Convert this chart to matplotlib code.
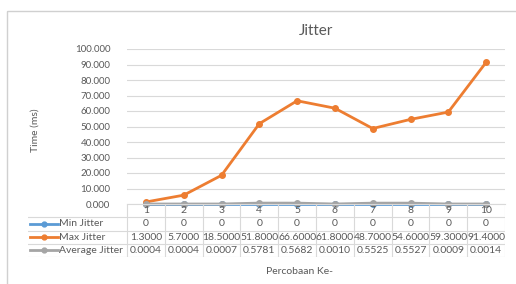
import numpy as np
import matplotlib.pyplot as plt
from matplotlib.patches import Rectangle
from matplotlib.lines import Line2D

plt.rcParams['font.family'] = ['Lato', 'DejaVu Sans']

# data
categories = [1, 2, 3, 4, 5, 6, 7, 8, 9, 10]
min_jitter = [0, 0, 0, 0, 0, 0, 0, 0, 0, 0]
max_jitter = [1.3, 5.7, 18.5, 51.8, 66.6, 61.8, 48.7, 54.6, 59.3, 91.4]
avg_jitter = [0.0004, 0.0004, 0.0007, 0.5781, 0.5682, 0.0010, 0.5525, 0.5527, 0.0009, 0.0014]
yticks = [0, 10, 20, 30, 40, 50, 60, 70, 80, 90, 100]

series = [
    ('Min Jitter', min_jitter, '#5B9BD5', lambda v: '%d' % v),
    ('Max Jitter', max_jitter, '#ED7D31', lambda v: '%.4f' % v),
    ('Average Jitter', avg_jitter, '#A5A5A5', lambda v: '%.4f' % v),
]

txt = '#595959'
grid = '#D9D9D9'
fs = 7.5
W, H = 516, 284
fig = plt.figure(figsize=(W / 100, H / 100), dpi=100)

def px(x0, y0, x1, y1):
    return [x0 / W, 1 - y1 / H, (x1 - x0) / W, (y1 - y0) / H]

# chart frame
frame = fig.add_axes([0, 0, 1, 1], zorder=-1)
frame.set_xlim(0, W)
frame.set_ylim(H, 0)
frame.axis('off')
frame.add_patch(Rectangle((7, 11), 520, 290, fill=False, ec='#D0D0D0', lw=1))

ax = fig.add_axes(px(127, 49, 505, 204))
x = np.arange(len(categories)) + 1
for name, vals, col, fmt in series:
    ax.plot(x, vals, color=col, lw=2, marker='o', ms=4, clip_on=False)
ax.set_xlim(0.5, len(categories) + 0.5)
ax.set_ylim(0, 100)
ax.set_yticks(yticks)
ax.set_yticklabels(['%.3f' % v for v in yticks], fontsize=7, color=txt)
ax.tick_params(axis='y', length=0, pad=12)
ax.set_xticks([])
ax.grid(axis='y', color=grid, lw=0.8)
ax.set_axisbelow(True)
for s in ['top', 'right', 'left']:
    ax.spines[s].set_visible(False)
ax.spines['bottom'].set_color(grid)
ax.set_title('Jitter', fontsize=11, color=txt, pad=10)

# data table
left_px = 28
step = (505 - 127) / len(categories)
x_left = 0.5 - (127 - left_px) / step
tb = fig.add_axes(px(left_px, 204, 505, 257))
tb.set_xlim(x_left, len(categories) + 0.5)
tb.set_ylim(4, 0)
tb.axis('off')
for b in np.arange(len(categories) + 1) + 0.5:
    tb.add_line(Line2D([b, b], [0, 4], color=grid, lw=0.8))
for r in [1, 2, 3, 4]:
    tb.add_line(Line2D([x_left, len(categories) + 0.5], [r, r], color=grid, lw=0.8))
for xi, c in zip(x, categories):
    tb.text(xi, 0.5, str(c), ha='center', va='center', fontsize=fs, color=txt)
key0 = x_left + 0.05
key1 = key0 + 28 / step
for r, (name, vals, col, fmt) in enumerate(series, start=1):
    tb.add_line(Line2D([key0, key1], [r + 0.5, r + 0.5], color=col, lw=2))
    tb.plot([(key0 + key1) / 2], [r + 0.5], 'o', color=col, ms=3.5)
    tb.text(key1 + 0.03, r + 0.5, name, ha='left', va='center', fontsize=fs, color=txt)
    for xi, v in zip(x, vals):
        tb.text(xi, r + 0.5, fmt(v), ha='center', va='center', fontsize=fs, color=txt)

fig.text(35 / W, 1 - 130 / H, 'Time (ms)', rotation=90, ha='center', va='center',
         fontsize=7.5, color=txt)
fig.text(300 / W, 1 - 272 / H, 'Percobaan Ke-', ha='center', va='center',
         fontsize=7.5, color=txt)

fig.savefig('out.png', dpi=100)
